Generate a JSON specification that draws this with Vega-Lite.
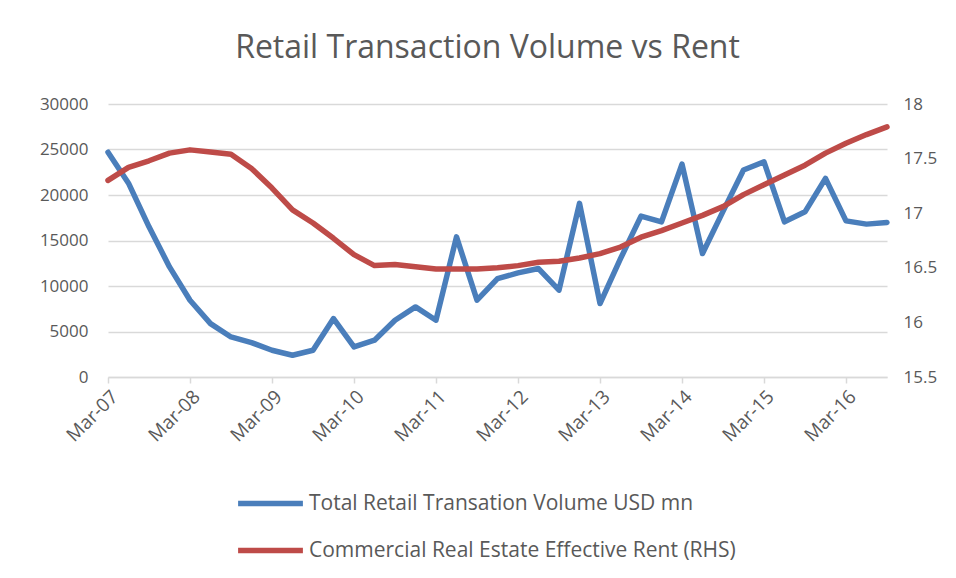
{
  "$schema": "https://vega.github.io/schema/vega-lite/v6.json",
  "width": 779,
  "height": 273,
  "autosize": "none",
  "padding": {"left": 108, "top": 104, "right": 69, "bottom": 201},
  "background": "white",
  "title": {"text": "Retail Transaction Volume vs Rent", "font": "Open Sans", "fontSize": 32, "fontWeight": "normal", "color": "#595959", "offset": 30, "dx": -10},
  "config": {"view": {"stroke": null}},
  "data": {"values": [
    {"q": "Mar-07", "vol": 24700, "rent": 17.30},
    {"q": "Jun-07", "vol": 21300, "rent": 17.42},
    {"q": "Sep-07", "vol": 16500, "rent": 17.48},
    {"q": "Dec-07", "vol": 12100, "rent": 17.55},
    {"q": "Mar-08", "vol": 8440, "rent": 17.58},
    {"q": "Jun-08", "vol": 5870, "rent": 17.56},
    {"q": "Sep-08", "vol": 4400, "rent": 17.54},
    {"q": "Dec-08", "vol": 3780, "rent": 17.41},
    {"q": "Mar-09", "vol": 2940, "rent": 17.23},
    {"q": "Jun-09", "vol": 2390, "rent": 17.03},
    {"q": "Sep-09", "vol": 2940, "rent": 16.91},
    {"q": "Dec-09", "vol": 6420, "rent": 16.77},
    {"q": "Mar-10", "vol": 3300, "rent": 16.62},
    {"q": "Jun-10", "vol": 4040, "rent": 16.52},
    {"q": "Sep-10", "vol": 6240, "rent": 16.53},
    {"q": "Dec-10", "vol": 7700, "rent": 16.51},
    {"q": "Mar-11", "vol": 6240, "rent": 16.49},
    {"q": "Jun-11", "vol": 15400, "rent": 16.49},
    {"q": "Sep-11", "vol": 8440, "rent": 16.49},
    {"q": "Dec-11", "vol": 10800, "rent": 16.50},
    {"q": "Mar-12", "vol": 11440, "rent": 16.52},
    {"q": "Jun-12", "vol": 11920, "rent": 16.55},
    {"q": "Sep-12", "vol": 9540, "rent": 16.56},
    {"q": "Dec-12", "vol": 19080, "rent": 16.59},
    {"q": "Mar-13", "vol": 8070, "rent": 16.63},
    {"q": "Jun-13", "vol": 13000, "rent": 16.69},
    {"q": "Sep-13", "vol": 17680, "rent": 16.78},
    {"q": "Dec-13", "vol": 17050, "rent": 16.84},
    {"q": "Mar-14", "vol": 23400, "rent": 16.91},
    {"q": "Jun-14", "vol": 13570, "rent": 16.98},
    {"q": "Sep-14", "vol": 18200, "rent": 17.06},
    {"q": "Dec-14", "vol": 22740, "rent": 17.17},
    {"q": "Mar-15", "vol": 23650, "rent": 17.26},
    {"q": "Jun-15", "vol": 17050, "rent": 17.35},
    {"q": "Sep-15", "vol": 18150, "rent": 17.44},
    {"q": "Dec-15", "vol": 21830, "rent": 17.55},
    {"q": "Mar-16", "vol": 17160, "rent": 17.64},
    {"q": "Jun-16", "vol": 16800, "rent": 17.72},
    {"q": "Sep-16", "vol": 16990, "rent": 17.79}
  ]},
  "encoding": {
    "x": {"field": "q", "type": "ordinal", "sort": null,
      "scale": {"type": "point", "padding": 0},
      "axis": {"title": null, "values": ["Mar-07","Mar-08","Mar-09","Mar-10","Mar-11","Mar-12","Mar-13","Mar-14","Mar-15","Mar-16"],
        "labelAngle": -45, "labelFont": "Open Sans", "labelFontSize": 19, "labelColor": "#595959",
        "domainColor": "#d9d9d9", "domainWidth": 1.5, "tickColor": "#d9d9d9", "tickSize": 6, "tickWidth": 1.5, "grid": false, "labelPadding": 4}
    }
  },
  "layer": [
    {
      "mark": {"type": "line", "strokeWidth": 5.5, "strokeCap": "round", "strokeJoin": "round"},
      "encoding": {
        "y": {"field": "vol", "type": "quantitative",
          "scale": {"domain": [0, 30000], "nice": false},
          "axis": {"title": null, "orient": "left", "values": [0,5000,10000,15000,20000,25000,30000], "format": "d",
            "labelFont": "Open Sans", "labelFontSize": 17, "labelColor": "#595959", "labelPadding": 20,
            "domain": false, "ticks": false, "grid": true, "gridColor": "#d9d9d9", "gridWidth": 1.5}},
        "color": {"datum": "Total Retail Transation Volume USD mn", "type": "nominal",
          "scale": {"domain": ["Total Retail Transation Volume USD mn", "Commercial Real Estate Effective Rent (RHS)"], "range": ["#4a7ebb", "#be4b48"]},
          "legend": {"title": null, "orient": "none", "legendX": 127, "legendY": 364, "direction": "vertical",
            "symbolType": "stroke", "symbolSize": 4200, "symbolStrokeWidth": 5.5, "rowPadding": -19,
            "labelFont": "Open Sans", "labelFontSize": 21, "labelColor": "#595959", "labelOffset": 3, "labelLimit": 700}}
      }
    },
    {
      "mark": {"type": "line", "strokeWidth": 5.5, "strokeCap": "round", "strokeJoin": "round"},
      "encoding": {
        "y": {"field": "rent", "type": "quantitative",
          "scale": {"domain": [15.5, 18], "nice": false, "zero": false},
          "axis": {"title": null, "orient": "right", "values": [15.5,16,16.5,17,17.5,18], "format": "~g",
            "labelFont": "Open Sans", "labelFontSize": 17, "labelColor": "#595959", "labelPadding": 16,
            "domain": false, "ticks": false, "grid": false}},
        "color": {"datum": "Commercial Real Estate Effective Rent (RHS)", "type": "nominal"}
      }
    }
  ],
  "resolve": {"scale": {"y": "independent"}}
}
